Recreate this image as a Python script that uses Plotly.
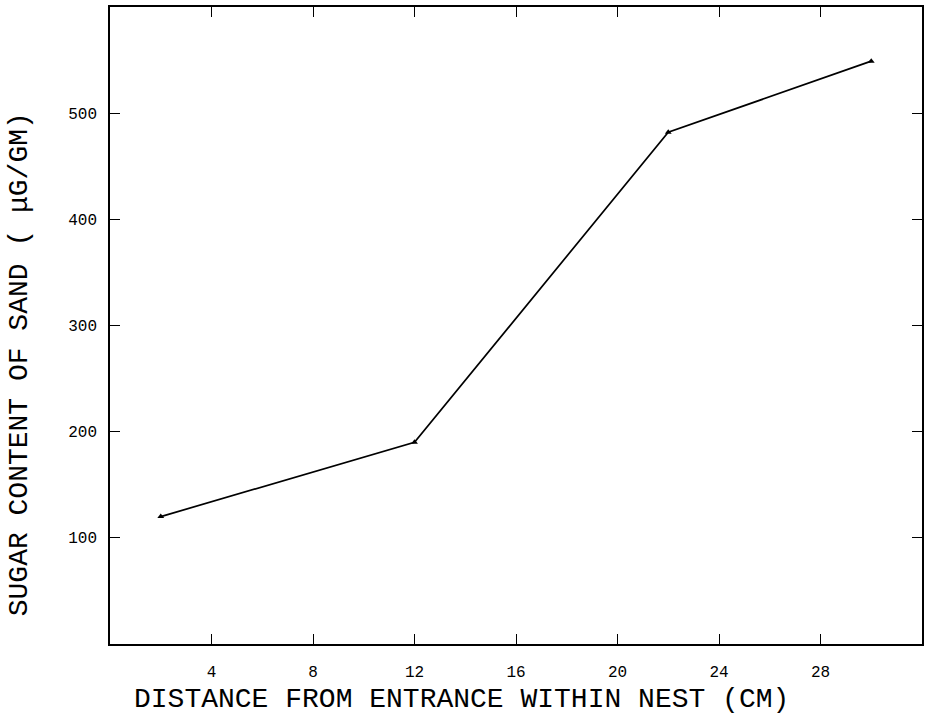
import plotly.graph_objects as go

# distance from nest entrance (cm) vs sugar content (ug/gm)
distance = [2, 12, 22, 30]
sugar = [120, 190, 482, 549]
x_ticks = [4, 8, 12, 16, 20, 24, 28]
y_ticks = [100, 200, 300, 400, 500]

FONT = "Liberation Mono"

W, H = 929, 716
L, R, T, B = 110, 6.5, 6.5, 72
PW, PH = W - L - R, H - T - B

fig = go.Figure()
fig.add_trace(go.Scatter(
    x=distance, y=sugar,
    mode="lines+markers",
    line=dict(color="black", width=1.7),
    marker=dict(symbol="triangle-up", size=6, color="black"),
    showlegend=False,
))

axis_common = dict(
    showgrid=False, zeroline=False,
    showline=True, linecolor="black", linewidth=1.6, mirror="ticks",
    ticks="inside", ticklen=10, tickwidth=1.4, tickcolor="black",
    tickfont=dict(family=FONT, size=16, color="black"),
)
fig.update_xaxes(range=[0, 32], tickvals=x_ticks, ticklabelstandoff=12, **axis_common)
fig.update_yaxes(range=[0, 600], tickvals=y_ticks, ticklabelstandoff=8, **axis_common)

# axis titles placed by hand, they sit off-centre in the original
fig.add_annotation(
    text="DISTANCE FROM ENTRANCE WITHIN NEST (CM)",
    xref="paper", yref="paper", x=(462 - L) / PW, y=-(700 - (H - B)) / PH,
    showarrow=False, font=dict(family=FONT, size=28, color="black"),
    xanchor="center", yanchor="middle", borderpad=0,
)
fig.add_annotation(
    text="SUGAR CONTENT OF SAND ( \u03bcG/GM)",
    xref="paper", yref="paper", x=-(L - 19) / PW, y=((H - B) - 364) / PH,
    showarrow=False, textangle=-90, font=dict(family=FONT, size=28, color="black"),
    xanchor="center", yanchor="middle", borderpad=0,
)

fig.update_layout(
    width=W, height=H,
    margin=dict(l=L, r=R, t=T, b=B),
    plot_bgcolor="white", paper_bgcolor="white",
)

# drop the default body margin so the figure fills the window exactly
fig.write_html(
    "out.html",
    config={"displayModeBar": False},
    post_script="document.body.style.margin='0';",
)
